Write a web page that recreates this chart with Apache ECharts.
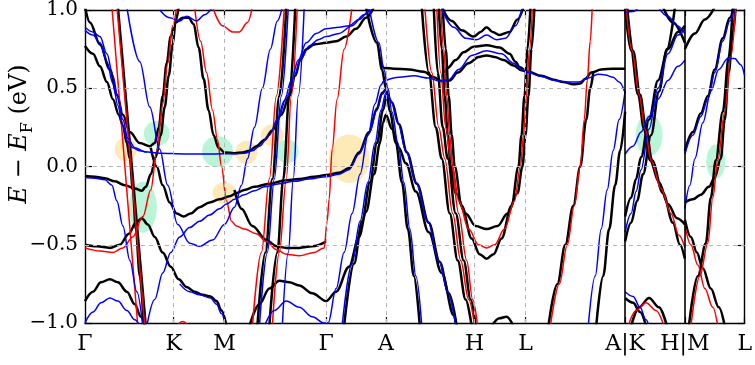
<!DOCTYPE html>
<html><head><meta charset="utf-8">
<script src="https://cdn.jsdelivr.net/npm/echarts@6/dist/echarts.min.js"></script>
<style>html,body{margin:0;padding:0;background:#fff}#c{width:755px;height:365px}</style>
</head><body><div id="c"></div>
<script>
// ---- high-symmetry path (path length, arbitrary units) ----
const kTicks = [0, 89, 140, 242, 302, 391, 442, 542, 602, 662];
const kLabels = ['Γ', 'K', 'M', 'Γ', 'A', 'H', 'L', 'A|K', 'H|M', 'L'];
const gridK = [89, 140, 242, 302, 391, 442];
const panelBreaks = [542, 602];
const eTicks = [-1, -0.5, 0, 0.5, 1];
const eGrid = [-0.5, 0, 0.5];

// ---- bands: [k, E - E_F (eV)] ----
const blackBands = [
  [[0,1.02],[5,0.92],[15,0.78],[25,0.62],[32,0.46],[38,0.33],[45,0.22],[55,0.15],[65,0.13],[70,0.15],[74,0.25],[78,0.45],[82,0.66],[86,0.83],[91,0.92],[98,0.95],[104,0.95],[109,0.91],[114,0.76],[119,0.56],[124,0.36],[129,0.2],[134,0.12],[140,0.09],[150,0.085],[158,0.09],[165,0.1],[172,0.13],[180,0.17],[188,0.23],[197,0.33],[205,0.45],[211,0.58],[216,0.68],[222,0.75],[230,0.78],[242,0.79],[252,0.8],[262,0.83],[272,0.88],[282,0.95],[290,1.02]],
  [[0,0.77],[8,0.72],[15,0.64],[22,0.54],[28,0.43],[34,0.33],[38,0.26],[42,0.15],[45,0.05],[48,-0.15],[51,-0.4],[55,-0.7],[59,-1.02]],
  [[0,-0.06],[10,-0.065],[20,-0.075],[30,-0.095],[40,-0.12],[50,-0.14],[57,-0.155],[61,-0.13],[66,-0.05],[71,0.06],[76,0.2],[80,0.38],[84,0.58],[88,0.78],[91,0.93],[94,1.02]],
  [[0,-0.5],[12,-0.51],[25,-0.52],[35,-0.5],[44,-0.43],[51,-0.36],[57,-0.33],[63,-0.37],[70,-0.45],[78,-0.55],[86,-0.64],[94,-0.72],[102,-0.77],[110,-0.8],[118,-0.82],[126,-0.83],[132,-0.86],[137,-0.92],[142,-1.02]],
  [[0,-0.86],[8,-0.8],[16,-0.74],[25,-0.72],[33,-0.74],[42,-0.8],[50,-0.88],[56,-0.96],[60,-1.02]],
  [[66,0.12],[72,0.0],[78,-0.12],[85,-0.23],[92,-0.3],[99,-0.32],[106,-0.3],[115,-0.26],[125,-0.23],[135,-0.21],[145,-0.19],[152,-0.17],[160,-0.15],[170,-0.13],[185,-0.11],[200,-0.09],[215,-0.08],[230,-0.065],[242,-0.055],[255,-0.04],[265,-0.01],[275,0.09],[285,0.22],[293,0.37],[298,0.47],[302,0.5]],
  [[150,-0.15],[157,-0.27],[168,-0.38],[182,-0.47],[192,-0.51],[202,-0.52],[215,-0.52],[228,-0.51],[242,-0.48]],
  [[165,-1.02],[175,-0.88],[185,-0.78],[195,-0.73],[205,-0.74],[215,-0.76],[228,-0.81],[242,-0.86],[252,-0.8],[265,-0.64],[275,-0.45],[282,-0.29],[290,-0.05],[296,0.15],[299,0.28],[302,0.33],[308,0.24],[315,0.12],[322,0.02],[332,-0.16],[345,-0.42],[358,-0.68],[370,-0.95],[373,-1.02]],
  [[173,-1.02],[181,-0.55],[188,-0.08],[195,0.45],[202,1.02]],
  [[185,-1.02],[193,-0.55],[199,-0.08],[205,0.45],[211,1.02]],
  [[33,1.02],[61,-1.02]],
  [[282,1.02],[293,0.79],[298,0.62],[302,0.5],[306,0.35],[312,0.15],[318,-0.1],[324,-0.4],[330,-0.7],[336,-1.02]],
  [[260,-1.02],[270,-0.62],[278,-0.35],[286,-0.1],[293,0.15],[299,0.36],[303,0.46],[308,0.41],[315,0.27],[323,0.09],[333,-0.11],[345,-0.36],[356,-0.61],[365,-0.81],[373,-1.02]],
  [[296,0.7],[300,0.63],[310,0.625],[325,0.62],[340,0.605],[350,0.57],[358,0.545],[366,0.55],[374,0.6],[385,0.66],[395,0.7],[403,0.71],[411,0.7],[420,0.68],[430,0.645],[438,0.615],[445,0.605],[458,0.58],[470,0.555],[480,0.54],[490,0.525],[497,0.53],[502,0.56],[508,0.6],[518,0.62],[530,0.625],[542,0.625]],
  [[360,0.6],[364,0.63],[372,0.68],[380,0.73],[390,0.765],[403,0.775],[416,0.76],[426,0.72],[432,0.67],[436,0.635],[440,0.62]],
  [[358,1.02],[368,0.93],[378,0.87],[390,0.83],[397,0.86],[403,0.89],[409,0.86],[416,0.84],[426,0.86],[434,0.94],[440,1.02]],
  [[338,1.02],[345,0.6],[352,0.25],[358,0.05],[366,-0.3],[374,-0.6],[382,-0.85],[388,-1.02]],
  [[350,1.02],[354,0.6],[359,0.25],[364,0.05],[372,-0.3],[380,-0.6],[387,-0.85],[392,-1.02]],
  [[355,1.02],[358,0.75],[361,0.45],[364,0.2],[367,0.0],[372,-0.17],[382,-0.3],[392,-0.38],[403,-0.4],[414,-0.38],[424,-0.3],[434,-0.17],[439,0.0],[442,0.2],[445,0.45],[448,0.75],[451,1.02]],
  [[359,1.02],[362,0.75],[365,0.45],[368,0.2],[371,0.0],[378,-0.25],[388,-0.46],[396,-0.56],[403,-0.59],[410,-0.56],[418,-0.46],[428,-0.25],[435,0.0],[438,0.2],[441,0.45],[444,0.75],[447,1.02]],
  [[465,-1.02],[474,-0.75],[482,-0.5],[490,-0.25],[497,0.0],[503,0.3],[507,0.5],[510,0.6]],
  [[513,-1.02],[520,-0.7],[526,-0.4],[532,-0.12],[537,0.1],[542,0.35]],
  [[408,-1.02],[416,-0.97],[423,-0.96],[430,-1.02]],
  [[542,1.02],[548,0.74],[555,0.46],[561,0.24],[567,0.04],[576,-0.1],[585,-0.24],[594,-0.33],[602,-0.37]],
  [[544,1.02],[550,0.74],[557,0.46],[563,0.24],[569,0.04],[580,-0.17],[590,-0.36],[597,-0.5],[602,-0.59]],
  [[542,-0.32],[548,-0.2],[553,-0.08],[558,0.06],[566,0.3],[575,0.55],[585,0.75],[595,0.86],[602,0.9]],
  [[542,-0.48],[548,-0.36],[554,-0.22],[560,-0.05],[568,0.2],[576,0.48],[584,0.75],[592,1.02]],
  [[580,1.02],[590,0.92],[602,0.79]],
  [[542,-0.84],[550,-0.87],[557,-0.93],[563,-1.02]],
  [[548,-1.02],[556,-0.9],[566,-0.84],[576,-0.9],[584,-1.02]],
  [[602,0.75],[612,0.85],[622,0.94],[632,1.02]],
  [[602,-0.23],[610,-0.21],[618,-0.18],[626,-0.13],[632,-0.07],[638,0.05],[642,0.3],[646,0.6],[650,0.85],[653,1.02]],
  [[602,-0.34],[608,-0.45],[614,-0.55],[620,-0.65],[628,-0.78],[636,-0.9],[642,-1.02]],
  [[606,-1.02],[615,-0.7],[623,-0.49],[628,-0.2],[633,0.04],[640,0.35],[646,0.7],[650,1.02]],
  [[602,0.1],[610,0.22],[618,0.34],[625,0.45],[632,0.62],[640,0.82],[647,0.95],[651,1.02]]
];
const redBands = [
  [[27,1.02],[53,-1.02]],
  [[32,1.02],[60,-1.02]],
  [[0,-0.52],[15,-0.54],[28,-0.55],[38,-0.52],[48,-0.45],[58,-0.32],[66,-0.15],[72,0.1],[78,0.4],[83,0.66],[88,0.9],[92,1.02]],
  [[110,1.02],[116,0.8],[122,0.6],[128,0.36],[133,0.17],[137,0.0],[142,-0.22],[147,-0.35],[152,-0.38],[160,-0.4],[172,-0.43],[182,-0.48],[192,-0.53],[202,-0.56],[215,-0.57],[230,-0.55],[240,-0.52],[243,-0.35],[245,-0.21],[248,0.11],[253,0.43],[260,0.75],[268,1.02]],
  [[128,1.02],[138,0.9],[148,0.86],[155,0.86],[163,0.92],[168,1.02]],
  [[168,-1.02],[177,-0.55],[185,-0.08],[192,0.45],[200,1.02]],
  [[188,-1.02],[195,-0.55],[202,-0.08],[207,0.45],[213,1.02]],
  [[92,-1.02],[98,-0.99],[104,-1.02]],
  [[341,1.02],[348,0.6],[355,0.25],[361,0.05],[369,-0.3],[377,-0.6],[385,-0.85],[391,-1.02]],
  [[353,1.02],[357,0.6],[362,0.25],[367,0.05],[375,-0.3],[383,-0.6],[389,-0.85],[394,-1.02]],
  [[357,1.02],[360,0.75],[363,0.45],[366,0.2],[369,0.0],[375,-0.22],[385,-0.4],[395,-0.5],[403,-0.52],[411,-0.5],[421,-0.4],[431,-0.22],[437,0.0],[440,0.2],[443,0.45],[446,0.75],[449,1.02]],
  [[467,-1.02],[476,-0.75],[484,-0.5],[491,-0.25],[497,0.0],[501,0.3],[504,0.55],[507,0.8],[509,1.02]],
  [[543,1.02],[549,0.74],[556,0.46],[562,0.24],[568,0.04],[578,-0.14],[588,-0.3],[596,-0.44],[602,-0.52]],
  [[545,-1.02],[553,-0.92],[563,-0.87],[573,-0.92],[581,-1.02]],
  [[608,-1.02],[617,-0.7],[625,-0.49],[630,-0.2],[635,0.04],[642,0.35],[648,0.7],[653,1.02]],
  [[602,-0.38],[608,-0.5],[615,-0.63],[622,-0.78],[630,-0.9],[635,-1.02]]
];
const blueBands = [
  [[0,0.89],[8,0.86],[15,0.83],[22,0.72],[28,0.58],[33,0.44],[38,0.3],[43,0.18],[50,0.12],[60,0.095],[75,0.085],[100,0.08],[130,0.08],[150,0.082],[160,0.085],[168,0.1],[175,0.13],[185,0.2],[193,0.3],[200,0.42],[207,0.55],[214,0.68],[222,0.79],[232,0.85],[242,0.88],[255,0.89],[265,0.9],[275,0.94],[285,0.99],[289,1.02]],
  [[0,0.87],[8,0.84],[15,0.79],[22,0.67],[28,0.53],[33,0.39],[38,0.26],[43,0.16],[48,0.12],[55,0.1],[62,0.09]],
  [[196,0.32],[203,0.45],[210,0.58],[217,0.69],[225,0.77],[234,0.81],[242,0.83],[255,0.85],[268,0.9],[280,0.97],[286,1.02]],
  [[42,1.02],[55,0.67],[65,0.38],[75,0.11],[83,-0.12],[93,-0.37],[105,-0.49],[115,-0.51],[128,-0.47],[140,-0.37],[150,-0.26],[157,-0.12],[163,0.05],[170,0.25],[178,0.5],[186,0.75],[193,0.93],[198,1.02]],
  [[62,-1.02],[70,-0.85],[78,-0.68],[86,-0.55],[95,-0.45],[105,-0.39],[115,-0.35],[125,-0.31],[135,-0.27],[142,-0.24],[150,-0.21],[160,-0.18],[170,-0.155],[180,-0.13],[195,-0.11],[210,-0.095],[225,-0.08],[242,-0.065],[255,-0.05],[265,-0.02],[275,0.08],[285,0.21],[293,0.36],[298,0.46],[302,0.5]],
  [[95,-0.75],[105,-0.8],[115,-0.82],[126,-0.84],[132,-0.88],[137,-0.94],[141,-1.02]],
  [[0,-1.0],[8,-0.93],[16,-0.87],[25,-0.84],[33,-0.86],[42,-0.92],[50,-0.98],[55,-1.02]],
  [[0,-0.07],[10,-0.075],[20,-0.085],[27,-0.12],[32,-0.22],[38,-0.38],[45,-0.6],[52,-0.8],[58,-1.02]],
  [[75,1.0],[85,0.95],[95,0.93],[102,0.96],[112,0.93],[120,0.97],[128,1.02]],
  [[175,-1.02],[183,-0.55],[190,-0.08],[197,0.45],[204,1.02]],
  [[198,-1.02],[204,-0.55],[209,-0.08],[214,0.45],[220,1.02]],
  [[180,-1.02],[190,-0.92],[202,-0.86],[215,-0.9],[228,-0.96],[240,-1.0],[244,-1.0],[252,-0.78],[260,-0.55],[268,-0.3],[276,-0.05],[284,0.2],[291,0.4],[297,0.52],[300,0.55],[302,0.55]],
  [[258,-1.02],[268,-0.62],[276,-0.35],[284,-0.1],[291,0.15],[297,0.36],[302,0.47],[307,0.42],[314,0.28],[322,0.1],[332,-0.1],[344,-0.35],[355,-0.6],[364,-0.8],[372,-1.02]],
  [[285,1.02],[295,0.79],[300,0.62],[304,0.5],[308,0.35],[314,0.15],[320,-0.1],[326,-0.4],[332,-0.7],[338,-1.02]],
  [[302,0.55],[315,0.57],[330,0.58],[345,0.565],[356,0.545],[365,0.555],[375,0.62],[388,0.71],[403,0.74],[418,0.72],[430,0.66],[438,0.62],[445,0.6],[458,0.575],[472,0.55],[482,0.54],[495,0.54],[505,0.565],[515,0.59],[522,0.585],[530,0.57],[536,0.54],[542,0.47]],
  [[357,1.02],[370,0.89],[382,0.82],[393,0.81],[403,0.84],[413,0.81],[422,0.82],[432,0.9],[439,1.02]],
  [[505,-1.02],[512,-0.7],[518,-0.4],[524,-0.15],[530,0.1],[536,0.3],[542,0.48]],
  [[542,-0.42],[548,-0.3],[553,-0.16],[558,-0.02],[566,0.24],[575,0.5],[585,0.72],[595,0.84],[602,0.88]],
  [[542,0.08],[550,0.13],[558,0.22],[566,0.32],[575,0.43],[585,0.55],[595,0.64],[602,0.68]],
  [[575,1.02],[585,0.96],[594,0.9],[602,0.85]],
  [[542,-0.8],[550,-0.83],[557,-0.9],[563,-0.98],[566,-1.02]],
  [[542,0.985],[550,0.99],[556,1.02]],
  [[602,0.08],[610,0.2],[618,0.32],[625,0.43],[632,0.6],[640,0.8],[647,0.93],[652,1.02]],
  [[602,-0.27],[607,-0.12],[612,0.05],[620,0.28],[628,0.48],[636,0.62],[645,0.69],[652,0.69],[658,0.65],[662,0.58]]
];
// highlighted regions: [k centre, E centre, half-width in k, half-height in eV]
const greenSpots = [[72,0.21,13,0.08],[58,-0.26,14,0.163],[133,0.095,15.5,0.1],[203,0.096,11.5,0.075],[566,0.2,13.5,0.134],[633,0.03,9.5,0.11]];
const yellowSpots = [[41,0.11,11,0.077],[162,0.09,11,0.075],[140,-0.17,12,0.07],[188,0.2,11.5,0.07],[265,0.05,20.5,0.155]];

// ---- layout ----
const W = 755, H = 365;
const G = {left: 85, right: 8, top: 10, bottom: 42};
const kMin = kTicks[0], kMax = kTicks[kTicks.length - 1];
const pxPerK = (W - G.left - G.right) / (kMax - kMin);
const pxPerE = (H - G.top - G.bottom) / 2;
const SERIF = 'DejaVu Serif';

const chart = echarts.init(document.getElementById('c'), null, {renderer: 'canvas'});

const lineSeries = (bands, color, width, z) => bands.map(b => ({
  type: 'line', data: b, showSymbol: false, symbol: 'none', smooth: 0.35, smoothMonotone: 'x',
  lineStyle: {color, width}, z, silent: true, animation: false, clip: true
}));
const spotSeries = (spots, color) => ({
  type: 'scatter', data: spots, symbol: 'circle', z: 1, silent: true, animation: false,
  symbolSize: v => [2 * v[2] * pxPerK, 2 * v[3] * pxPerE],
  itemStyle: {color}
});
const labelFor = v => { const i = kTicks.findIndex(t => Math.abs(t - v) < 0.5); return i >= 0 ? kLabels[i] : ''; };
const eFmt = v => (v < 0 ? '\u2212' : '') + Math.abs(v).toFixed(1);

const gridStyle = {color: '#b4b4b4', width: 1, type: [4, 4]};
const axisLineStyle = {color: '#000', width: 1.4};

const option = {
  animation: false,
  backgroundColor: '#fff',
  grid: {left: G.left, right: G.right, top: G.top, bottom: G.bottom, containLabel: false},
  xAxis: [
    {type: 'value', min: kMin, max: kMax, position: 'bottom',
      axisLine: {show: true, onZero: false, lineStyle: axisLineStyle},
      axisTick: {show: true, inside: true, length: 6, customValues: kTicks, lineStyle: {color: '#000', width: 1.2}},
      axisLabel: {show: true, customValues: kTicks, formatter: labelFor, fontFamily: SERIF, fontSize: 22, color: '#000', margin: 10, showMinLabel: true, showMaxLabel: true},
      splitLine: {show: false}},
    {type: 'value', min: kMin, max: kMax, position: 'top',
      axisLine: {show: true, onZero: false, lineStyle: axisLineStyle},
      axisTick: {show: true, inside: true, length: 6, customValues: kTicks, lineStyle: {color: '#000', width: 1.2}},
      axisLabel: {show: false}, splitLine: {show: false}}
  ],
  yAxis: [
    {type: 'value', min: -1, max: 1, interval: 0.5, position: 'left',
      axisLine: {show: true, onZero: false, lineStyle: axisLineStyle},
      axisTick: {show: true, inside: true, length: 7, lineStyle: {color: '#000', width: 1.2}},
      axisLabel: {formatter: eFmt, fontFamily: SERIF, fontSize: 20, color: '#000', margin: 7},
      splitLine: {show: false}},
    {type: 'value', min: -1, max: 1, interval: 0.5, position: 'right',
      axisLine: {show: true, onZero: false, lineStyle: axisLineStyle},
      axisTick: {show: true, inside: true, length: 7, lineStyle: {color: '#000', width: 1.2}},
      axisLabel: {show: false}, splitLine: {show: false}}
  ],
  graphic: [{
    type: 'text', x: 20, y: 134, rotation: Math.PI / 2, silent: true,
    style: {
      text: '{it|E} \u2212 {it|E}{sub|F} (eV)', fontFamily: SERIF, fontSize: 24, fill: '#000',
      align: 'center', verticalAlign: 'middle',
      rich: {
        it: {fontFamily: SERIF, fontStyle: 'italic', fontSize: 24, lineHeight: 32},
        sub: {fontFamily: SERIF, fontSize: 16, lineHeight: 32, verticalAlign: 'bottom'}
      }
    }
  }],
  series: [
    {type: 'line', data: [], z: 0, silent: true, animation: false,
      markLine: {silent: true, symbol: 'none', label: {show: false}, lineStyle: gridStyle, animation: false,
        data: gridK.map(k => ({xAxis: k})).concat(eGrid.map(e => ({yAxis: e})))}},
    spotSeries(greenSpots, 'rgba(90,232,158,0.52)'),
    spotSeries(yellowSpots, 'rgba(250,210,100,0.58)'),
    ...lineSeries(blackBands, '#000', 2.5, 2),
    ...lineSeries(redBands, '#ff0000', 1.5, 3),
    ...lineSeries(blueBands, '#0000ff', 1.5, 4),
    {type: 'line', data: [], z: 6, silent: true, animation: false,
      markLine: {silent: true, symbol: 'none', label: {show: false}, animation: false,
        lineStyle: {color: '#000', width: 1.6, type: 'solid'},
        data: panelBreaks.map(k => ({xAxis: k}))}}
  ]
};
chart.setOption(option);
</script></body></html>
